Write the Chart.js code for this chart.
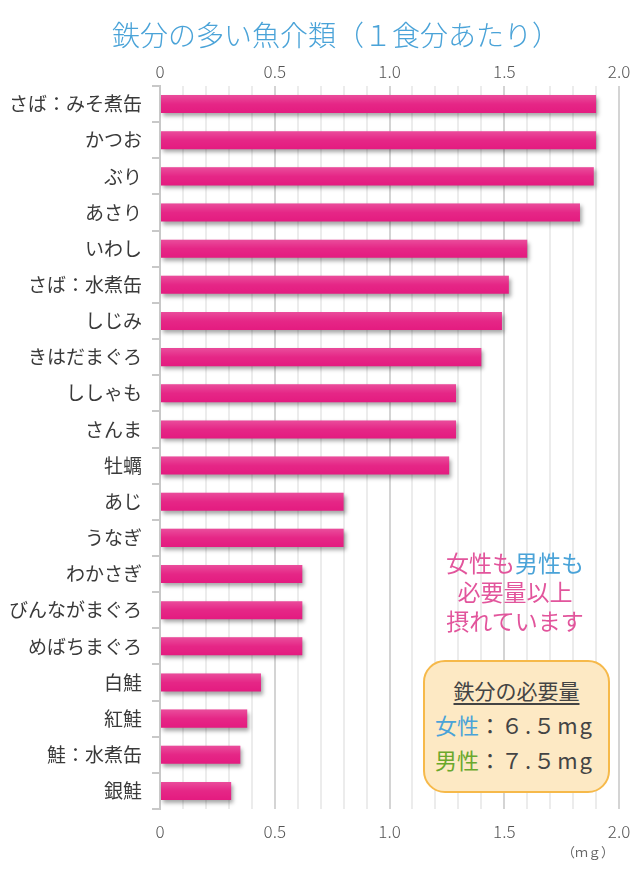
<!DOCTYPE html>
<html>
<head>
<meta charset="utf-8">
<script src="https://cdn.jsdelivr.net/npm/chart.js@4"></script>
<style>
    body { margin: 0; background: #fff; font-family: "Noto Sans CJK JP", sans-serif; }
    #wrap { position: relative; width: 640px; height: 880px; }
    #chart { position: absolute; left: 0; top: 0; }
    .title { position: absolute; left: 10px; width: 652px; top: 14px; text-align: center; font-size: 28px; font-weight: 300; color: #4aa3d8; }
    .note { position: absolute; left: 410px; width: 210px; top: 548px; text-align: center; font-size: 23px; line-height: 29px; color: #e2559c; }
    .box { position: absolute; left: 423px; top: 660px; width: 187px; height: 133px; box-sizing: border-box;
           border: 2px solid #f6b94a; border-radius: 22px; background: #fde9c4; color: #444; }
    .box .head { text-align: center; font-size: 21px; margin-top: 13px; text-decoration: underline; text-underline-offset: 4px; }
    .box .row { font-size: 22px; margin-left: 10px; margin-top: 3px; white-space: nowrap; }
    .box .num { letter-spacing: 2px; }
    .unit { position: absolute; left: 562px; top: 842px; font-size: 13px; color: #666; }
</style>
</head>
<body>
<div id="wrap">
    <canvas id="chart" width="640" height="880"></canvas>
    <div class="title">鉄分の多い魚介類（１食分あたり）</div>
    <div class="note">女性も<span style="color:#4aa3d8">男性も</span><br>必要量以上<br>摂れています</div>
    <div class="box">
        <div class="head">鉄分の必要量</div>
        <div class="row"><span style="color:#4aa3d8">女性</span>：<span class="num">６.５mg</span></div>
        <div class="row"><span style="color:#6aa82c">男性</span>：<span class="num">７.５mg</span></div>
    </div>
    <div class="unit">（ｍｇ）</div>
</div>
<script>
const fishNames = [
    'さば：みそ煮缶', 'かつお', 'ぶり', 'あさり', 'いわし', 'さば：水煮缶', 'しじみ',
    'きはだまぐろ', 'ししゃも', 'さんま', '牡蠣', 'あじ', 'うなぎ', 'わかさぎ',
    'びんながまぐろ', 'めばちまぐろ', '白鮭', '紅鮭', '鮭：水煮缶', '銀鮭'
];
const ironValues = [
    1.90, 1.90, 1.89, 1.83, 1.60, 1.52, 1.49,
    1.40, 1.29, 1.29, 1.26, 0.80, 0.80, 0.62,
    0.62, 0.62, 0.44, 0.38, 0.35, 0.31
];
const axisMin = 0;
const axisMax = 2.0;
const majorTicks = ['0', '0.5', '1.0', '1.5', '2.0'];

const tickFont = { family: '"Noto Sans CJK JP", sans-serif', size: 17, weight: '300' };

// 0.5刻みのラベルだけ表示
function tickLabel(value) {
    const v = Math.round(value * 10);
    if (v % 5 !== 0) return '';
    return majorTicks[v / 5];
}

function gridColor(ctx) {
    const v = Math.round(ctx.tick.value * 10);
    return v % 5 === 0 ? '#d4d4d4' : '#ececec';
}

const barShadow = {
    id: 'barShadow',
    beforeDatasetsDraw(chart) {
        const c = chart.ctx;
        c.save();
        c.shadowColor = 'rgba(0,0,0,0.35)';
        c.shadowBlur = 4;
        c.shadowOffsetX = 2;
        c.shadowOffsetY = 3;
    },
    afterDatasetsDraw(chart) {
        chart.ctx.restore();
        // バー上半分を少し明るく
        const c = chart.ctx;
        c.save();
        chart.getDatasetMeta(0).data.forEach(bar => {
            const h = bar.height;
            const top = bar.y - h / 2;
            const g = c.createLinearGradient(0, top, 0, top + h);
            g.addColorStop(0, 'rgba(255,255,255,0.22)');
            g.addColorStop(0.5, 'rgba(255,255,255,0.05)');
            g.addColorStop(1, 'rgba(255,255,255,0)');
            c.fillStyle = g;
            c.fillRect(bar.base, top, bar.x - bar.base, h);
        });
        c.restore();
    }
};

const xAxisBase = {
    type: 'linear',
    min: axisMin,
    max: axisMax,
    border: { display: false },
    grid: { color: gridColor, lineWidth: 2, drawTicks: false },
    ticks: { stepSize: 0.1, autoSkip: false, maxRotation: 0, callback: tickLabel, color: '#555', font: tickFont, padding: 4 }
};

new Chart(document.getElementById('chart').getContext('2d'), {
    type: 'bar',
    data: {
        labels: fishNames,
        datasets: [{
            data: ironValues,
            backgroundColor: '#e41b80',
            barPercentage: 0.5,
            categoryPercentage: 1.0,
            xAxisID: 'x'
        }]
    },
    options: {
        indexAxis: 'y',
        responsive: false,
        animation: false,
        layout: { padding: { top: 52, right: 21, bottom: 0, left: 0 } },
        plugins: { legend: { display: false }, tooltip: { enabled: false } },
        scales: {
            x: Object.assign({}, xAxisBase, {
                position: 'top',
                afterFit: s => { s.height = 34; }
            }),
            x2: Object.assign({}, xAxisBase, {
                position: 'bottom',
                grid: { display: false },
                afterFit: s => { s.height = 71; }
            }),
            y: {
                afterFit: s => { s.width = 160; },
                border: { display: true, color: '#c8c8c8', width: 2 },
                grid: { drawOnChartArea: false, color: '#c8c8c8', tickLength: 8, lineWidth: 2 },
                ticks: { color: '#3a3a3a', font: { family: '"Noto Sans CJK JP", sans-serif', size: 19 }, padding: 10 }
            }
        }
    },
    plugins: [barShadow]
});
</script>
</body>
</html>
